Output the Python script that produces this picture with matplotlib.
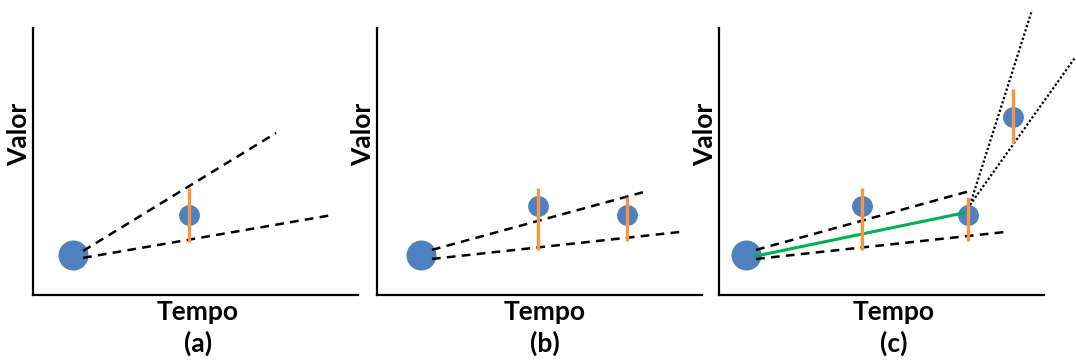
import matplotlib.pyplot as plt

plt.rcParams['font.family'] = ['Lato', 'DejaVu Sans']

# panel (a)
a_obs_x = [1.23, 4.8]
a_obs_y = [1.5, 3.0]
a_bar_x = [4.8]
a_bar_lo = [2.0]
a_bar_hi = [4.0]
a_upper = ([1.54, 7.48], [1.65, 6.07])
a_lower = ([1.54, 9.23], [1.39, 3.0])

# panel (b)
b_obs_x = [1.35, 4.95, 7.69]
b_obs_y = [1.5, 3.33, 3.0]
b_bar_x = [4.95, 7.69]
b_bar_lo = [1.69, 2.02]
b_bar_hi = [4.0, 3.67]
b_upper = ([1.69, 8.34], [1.69, 3.90])
b_lower = ([1.69, 9.32], [1.35, 2.36])

# panel (c)
c_obs_x = [0.83, 4.4, 7.66, 9.05]
c_obs_y = [1.5, 3.33, 3.0, 6.67]
c_bar_x = [4.4, 7.66, 9.05]
c_bar_lo = [1.69, 2.02, 5.69]
c_bar_hi = [4.0, 3.67, 7.72]
c_upper = ([1.14, 7.82], [1.69, 3.93])
c_lower = ([1.14, 8.8], [1.35, 2.36])
c_fit = ([1.14, 7.51], [1.46, 3.07])
c_dot1 = ([7.72, 9.63], [3.37, 10.67])
c_dot2 = ([7.72, 10.95], [3.37, 8.88])

labels = ['(a)', '(b)', '(c)']

BLUE = '#4F81BD'
ORANGE = '#F79646'
GREEN = '#00B050'

fig = plt.figure(figsize=(10.76, 3.6), dpi=100)

lefts = [33, 377, 719]
tempo_x = [0.508, 0.517, 0.537]
axes = []
for i, l in enumerate(lefts):
    ax = fig.add_axes([l / 1076, 65 / 360, 325 / 1076, 267 / 360])
    ax.set_xlim(0, 10)
    ax.set_ylim(0, 10)
    ax.spines['top'].set_visible(False)
    ax.spines['right'].set_visible(False)
    ax.spines['left'].set_linewidth(1.6)
    ax.spines['bottom'].set_linewidth(1.6)
    ax.set_xticks([])
    ax.set_yticks([])
    ax.patch.set_alpha(0)
    ax.text(-0.043, 0.603, 'Valor', transform=ax.transAxes, rotation=90,
            ha='center', va='center', fontsize=19, fontweight='bold')
    ax.text(tempo_x[i], -0.062, 'Tempo', transform=ax.transAxes,
            ha='center', va='center', fontsize=19, fontweight='bold')
    ax.text(tempo_x[i], -0.18, labels[i], transform=ax.transAxes,
            ha='center', va='center', fontsize=19, fontweight='bold')
    axes.append(ax)

dash = (0, (3.5, 2.5))

def draw(ax, ox, oy, bx, blo, bhi, up, lo):
    ax.plot(ox[:1], oy[:1], 'o', color=BLUE, ms=21.6, mew=0, zorder=2)
    ax.plot(ox[1:], oy[1:], 'o', color=BLUE, ms=15, mew=0, zorder=2)
    ax.vlines(bx, blo, bhi, color=ORANGE, lw=2.4, zorder=4)
    ax.plot(*up, color='black', lw=1.8, linestyle=dash, zorder=3)
    ax.plot(*lo, color='black', lw=1.8, linestyle=dash, zorder=3)

draw(axes[0], a_obs_x, a_obs_y, a_bar_x, a_bar_lo, a_bar_hi, a_upper, a_lower)
draw(axes[1], b_obs_x, b_obs_y, b_bar_x, b_bar_lo, b_bar_hi, b_upper, b_lower)
draw(axes[2], c_obs_x, c_obs_y, c_bar_x, c_bar_lo, c_bar_hi, c_upper, c_lower)

axes[2].plot(*c_fit, color=GREEN, lw=2.2, zorder=3)
axes[2].plot(*c_dot1, color='black', lw=1.6, linestyle=(0, (1, 1)), clip_on=False, zorder=3)
axes[2].plot(*c_dot2, color='black', lw=1.6, linestyle=(0, (1, 1)), clip_on=False, zorder=3)

fig.savefig('out.png', dpi=100)
